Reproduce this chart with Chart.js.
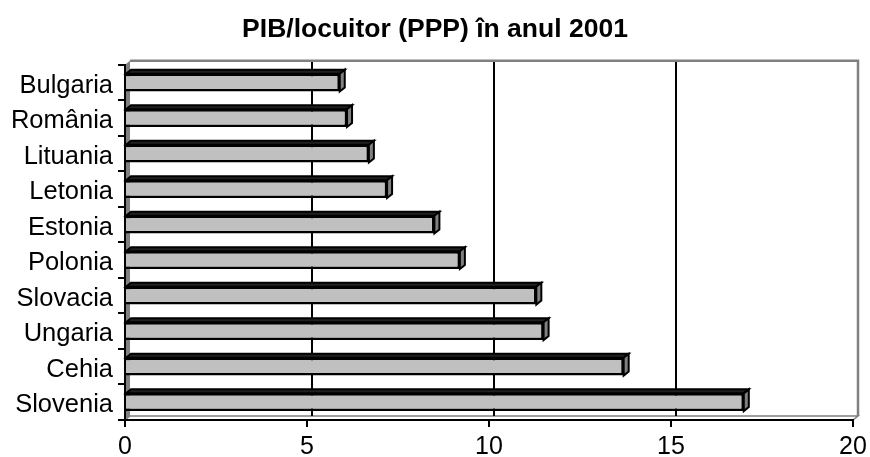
<!DOCTYPE html>
<html>
<head>
<meta charset="utf-8">
<script src="https://cdn.jsdelivr.net/npm/chart.js@4.4.1/dist/chart.umd.min.js"></script>
<style>
  html, body { margin: 0; padding: 0; background: #fff; }
  #wrap { width: 870px; height: 457px; position: relative; }
</style>
</head>
<body>
<div id="wrap"><canvas id="chart"></canvas></div>
<script>
const categories = ['Bulgaria', 'România', 'Lituania', 'Letonia', 'Estonia', 'Polonia', 'Slovacia', 'Ungaria', 'Cehia', 'Slovenia'];
const gdpPerCapita = [5.9, 6.1, 6.7, 7.2, 8.5, 9.2, 11.3, 11.5, 13.7, 17.0];
const xTicks = [0, 5, 10, 15, 20];
const chartTitle = 'PIB/locuitor (PPP) în anul 2001';

const FONT = "'Liberation Sans', Arial, sans-serif";
const DX = 5, DY = 4; // depth of the 3D effect

// walls, floor and back gridlines, drawn before the axes
const walls3d = {
  id: 'walls3d',
  beforeDraw(chart) {
    const { ctx, chartArea: a, scales } = chart;
    ctx.save();
    // floor
    ctx.fillStyle = '#fff';
    ctx.strokeStyle = '#808080';
    ctx.lineWidth = 1.5;
    ctx.beginPath();
    ctx.moveTo(a.left, a.bottom);
    ctx.lineTo(a.left + DX, a.bottom - DY);
    ctx.lineTo(a.right + DX, a.bottom - DY);
    ctx.lineTo(a.right, a.bottom);
    ctx.closePath();
    ctx.fill();
    ctx.stroke();
    // left side wall
    ctx.fillStyle = '#808080';
    ctx.beginPath();
    ctx.moveTo(a.left, a.top);
    ctx.lineTo(a.left + DX, a.top - DY);
    ctx.lineTo(a.left + DX, a.bottom - DY);
    ctx.lineTo(a.left, a.bottom);
    ctx.closePath();
    ctx.fill();
    // back wall gridlines
    ctx.strokeStyle = '#000';
    ctx.lineWidth = 2;
    xTicks.slice(1, -1).forEach(v => {
      const px = scales.x.getPixelForValue(v) + DX;
      ctx.beginPath();
      ctx.moveTo(px, a.top - DY);
      ctx.lineTo(px, a.bottom - DY);
      ctx.stroke();
    });
    // back wall border
    ctx.strokeStyle = '#808080';
    ctx.lineWidth = 2.5;
    ctx.beginPath();
    ctx.moveTo(a.left + DX, a.top - DY);
    ctx.lineTo(a.right + DX, a.top - DY);
    ctx.lineTo(a.right + DX, a.bottom - DY);
    ctx.stroke();
    ctx.restore();
  }
};

// top and right faces of each bar
const bars3d = {
  id: 'bars3d',
  afterDatasetsDraw(chart) {
    const { ctx } = chart;
    const meta = chart.getDatasetMeta(0);
    ctx.save();
    ctx.strokeStyle = '#000';
    ctx.lineWidth = 2;
    ctx.lineJoin = 'miter';
    meta.data.forEach(bar => {
      const { x, y, base, height } = bar.getProps(['x', 'y', 'base', 'height'], true);
      const top = y - height / 2, bottom = y + height / 2;
      ctx.fillStyle = '#202020';
      ctx.beginPath();
      ctx.moveTo(base, top);
      ctx.lineTo(base + DX, top - DY);
      ctx.lineTo(x + DX, top - DY);
      ctx.lineTo(x, top);
      ctx.closePath();
      ctx.fill();
      ctx.stroke();
      ctx.fillStyle = '#808080';
      ctx.beginPath();
      ctx.moveTo(x, top);
      ctx.lineTo(x + DX, top - DY);
      ctx.lineTo(x + DX, bottom - DY);
      ctx.lineTo(x, bottom);
      ctx.closePath();
      ctx.fill();
      ctx.stroke();
    });
    ctx.restore();
  }
};

new Chart(document.getElementById('chart'), {
  type: 'bar',
  data: {
    labels: categories,
    datasets: [{
      data: gdpPerCapita,
      backgroundColor: '#c0c0c0',
      borderColor: '#000',
      borderWidth: 2.5,
      barPercentage: 0.5,
      categoryPercentage: 1
    }]
  },
  options: {
    indexAxis: 'y',
    responsive: true,
    maintainAspectRatio: false,
    animation: false,
    layout: { padding: 0 },
    plugins: {
      legend: { display: false },
      tooltip: { enabled: false },
      title: {
        display: true,
        text: chartTitle,
        color: '#000',
        font: { family: FONT, size: 26.5, weight: 'bold' },
        padding: { top: 14, bottom: 19 }
      }
    },
    scales: {
      x: {
        min: 0,
        max: 20,
        afterBuildTicks: s => { s.ticks = xTicks.map(v => ({ value: v })); },
        afterFit: s => { s.height = 37; s.paddingRight = 17; },
        border: { display: true, color: '#000', width: 2 },
        grid: { display: true, drawOnChartArea: false, drawTicks: true, tickLength: 7, color: '#000', lineWidth: 2 },
        ticks: { color: '#000', font: { family: FONT, size: 25 }, padding: 5, maxRotation: 0 }
      },
      y: {
        afterFit: s => { s.width = 125; },
        border: { display: true, color: '#000', width: 2 },
        grid: { display: true, drawOnChartArea: false, drawTicks: true, tickLength: 7, color: '#000', lineWidth: 2 },
        ticks: { color: '#000', font: { family: FONT, size: 25.5 }, padding: 5, labelOffset: 3 }
      }
    }
  },
  plugins: [walls3d, bars3d]
});
</script>
</body>
</html>
